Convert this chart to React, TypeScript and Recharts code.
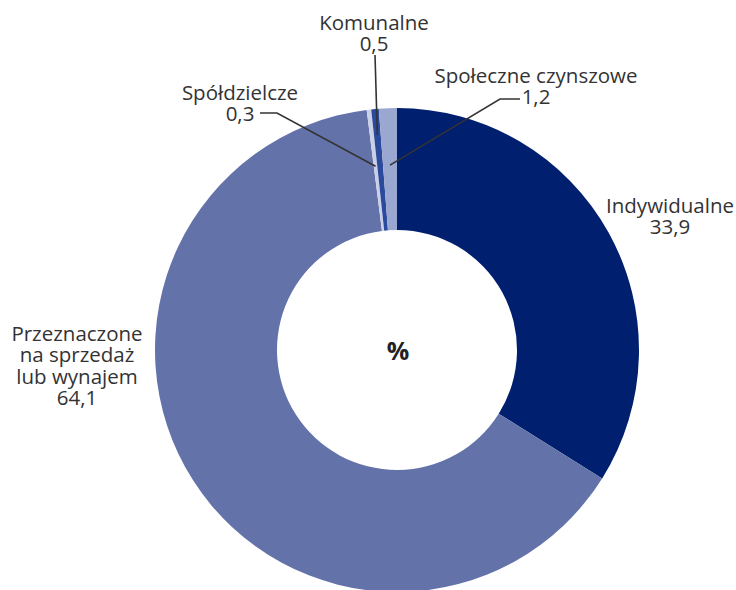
import React from "react";
import { PieChart, Pie, Cell } from "recharts";

const categories = [
  "Indywidualne",
  "Przeznaczone na sprzedaż lub wynajem",
  "Spółdzielcze",
  "Komunalne",
  "Społeczne czynszowe",
];
const values = [33.9, 64.1, 0.3, 0.5, 1.2];
const colors = ["#001f6f", "#6373aa", "#c9d0e8", "#2c4a9c", "#9aa7d1"];
const labelLines = [
  ["Indywidualne"],
  ["Przeznaczone", "na sprzedaż", "lub wynajem"],
  ["Spółdzielcze"],
  ["Komunalne"],
  ["Społeczne czynszowe"],
];

// label layout relative to pie centre: text centre x, first baseline y,
// leader start/elbow and radius at which the leader meets the slice
const labelLayout = [
  { dx: 273, dy: -137, leader: null },
  { dx: -320, dy: -9, leader: null },
  { dx: -157, dy: -250, leader: { start: [-137, -237], elbow: [-120, -237], r: 185 } },
  { dx: -23, dy: -320, leader: { start: [-22, -295], elbow: null, r: 216 } },
  { dx: 139, dy: -267, leader: { start: [123, -251], elbow: [103, -251], r: 185 } },
];

const data = categories.map((name, i) => ({ name, value: values[i] }));

const FONT = "'Open Sans', 'Noto Sans', sans-serif";
const LINE_H = 21.4;
const RADIAN = Math.PI / 180;

const fmt = (v: number) => v.toFixed(1).replace(".", ",");

const renderLabel = (props: any) => {
  const { cx, cy, midAngle, index } = props;
  const lay = labelLayout[index];
  const lines = [...labelLines[index], fmt(values[index])];
  const tx = cx + lay.dx;
  const ty = cy + lay.dy;
  let leader = null;
  if (lay.leader) {
    const ex = cx + lay.leader.r * Math.cos(-midAngle * RADIAN);
    const ey = cy + lay.leader.r * Math.sin(-midAngle * RADIAN);
    const pts: number[][] = [[cx + lay.leader.start[0], cy + lay.leader.start[1]]];
    if (lay.leader.elbow) pts.push([cx + lay.leader.elbow[0], cy + lay.leader.elbow[1]]);
    pts.push([ex, ey]);
    leader = (
      <polyline
        points={pts.map((p) => p.join(",")).join(" ")}
        fill="none"
        stroke="#333333"
        strokeWidth={1.6}
      />
    );
  }
  return (
    <g key={`lbl-${index}`}>
      {leader}
      <text
        x={tx}
        y={ty}
        textAnchor="middle"
        fill="#333333"
        fontFamily={FONT}
        fontSize={20.5}
      >
        {lines.map((l, i) => (
          <tspan key={i} x={tx} y={ty + i * LINE_H}>
            {l}
          </tspan>
        ))}
      </text>
      {index === 0 ? (
        <text
          x={cx + 1}
          y={cy + 10}
          textAnchor="middle"
          fill="#222222"
          fontFamily={FONT}
          fontWeight={700}
          fontSize={25}
        >
          %
        </text>
      ) : null}
    </g>
  );
};

export default function App() {
  return (
    <div style={{ position: "absolute", left: 0, top: 0, width: 736, height: 590, background: "#fff" }}>
      <PieChart width={736} height={590}>
        <Pie
          data={data}
          dataKey="value"
          nameKey="name"
          cx={392}
          cy={345}
          innerRadius={120}
          outerRadius={242}
          startAngle={90}
          endAngle={-270}
          stroke="none"
          label={renderLabel}
          labelLine={false}
          isAnimationActive={false}
        >
          {data.map((d, i) => (
            <Cell key={d.name} fill={colors[i]} />
          ))}
        </Pie>
      </PieChart>
    </div>
  );
}
